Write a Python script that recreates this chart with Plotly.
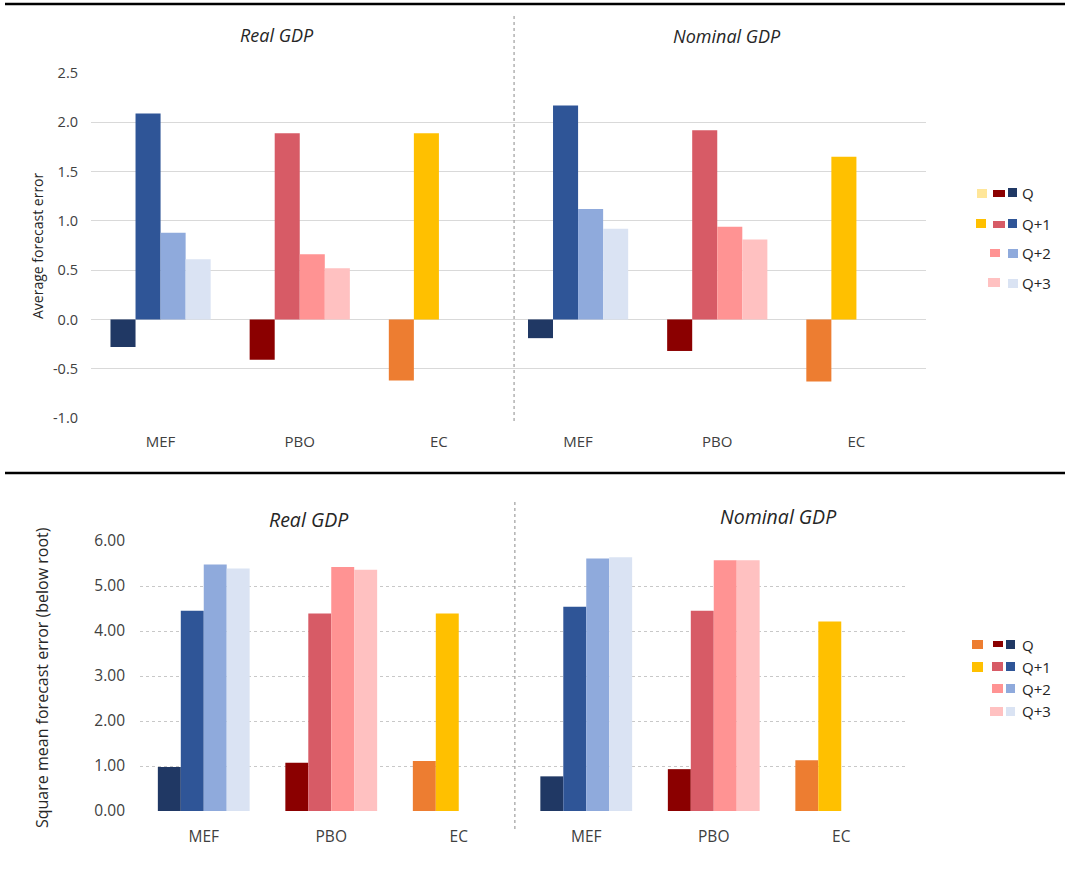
import plotly.graph_objects as go

W, H = 1065, 889

providers = ["MEF", "PBO", "EC"]
horizons = ["Q", "Q+1", "Q+2", "Q+3"]

# Average forecast error, by provider (MEF, PBO, EC)
avg_real_q = [-0.28, -0.41, -0.62]
avg_real_q1 = [2.09, 1.89, 1.89]
avg_real_q2 = [0.88, 0.66, None]
avg_real_q3 = [0.61, 0.52, None]
avg_nom_q = [-0.19, -0.32, -0.63]
avg_nom_q1 = [2.17, 1.92, 1.65]
avg_nom_q2 = [1.12, 0.94, None]
avg_nom_q3 = [0.92, 0.81, None]

# Square mean forecast error (below root), by provider (MEF, PBO, EC)
rmse_real_q = [0.98, 1.07, 1.11]
rmse_real_q1 = [4.45, 4.39, 4.39]
rmse_real_q2 = [5.48, 5.42, None]
rmse_real_q3 = [5.39, 5.36, None]
rmse_nom_q = [0.77, 0.93, 1.13]
rmse_nom_q1 = [4.54, 4.45, 4.21]
rmse_nom_q2 = [5.61, 5.57, None]
rmse_nom_q3 = [5.64, 5.57, None]

avg_tick_vals = [-1.0, -0.5, 0.0, 0.5, 1.0, 1.5, 2.0, 2.5]
avg_tick_text = ["-1.0", "-0.5", "0.0", "0.5", "1.0", "1.5", "2.0", "2.5"]
rmse_tick_vals = [0, 1, 2, 3, 4, 5, 6]
rmse_tick_text = ["0.00", "1.00", "2.00", "3.00", "4.00", "5.00", "6.00"]

# colour of each horizon, per provider
provider_colors = {
    "MEF": ["#203864", "#2F5597", "#8FAADC", "#DAE3F3"],
    "PBO": ["#8B0000", "#D75B66", "#FF9393", "#FFC1C1"],
    "EC": ["#ED7D31", "#FFC000", "#FFFFFF", "#FFFFFF"],
}

FONT = "Open Sans"
TICK_COLOR = "#404040"
TEXT_COLOR = "#262626"

avg_series = [
    avg_real_q + avg_nom_q,
    avg_real_q1 + avg_nom_q1,
    avg_real_q2 + avg_nom_q2,
    avg_real_q3 + avg_nom_q3,
]
rmse_series = [
    rmse_real_q + rmse_nom_q,
    rmse_real_q1 + rmse_nom_q1,
    rmse_real_q2 + rmse_nom_q2,
    rmse_real_q3 + rmse_nom_q3,
]
xpos = list(range(2 * len(providers)))

fig = go.Figure()
for h, name in enumerate(horizons):
    colors = [provider_colors[p][h] for p in providers] * 2
    fig.add_trace(go.Bar(x=xpos, y=avg_series[h], name=name, marker=dict(color=colors, line=dict(width=0)),
                         xaxis="x", yaxis="y", showlegend=False, offsetgroup=str(h)))
    fig.add_trace(go.Bar(x=xpos, y=rmse_series[h], name=name, marker=dict(color=colors, line=dict(width=0)),
                         xaxis="x2", yaxis="y2", showlegend=False, offsetgroup=str(h)))


def px_x(v):
    return v / W


def px_y(v):
    return 1 - v / H


top_dom_x = [px_x(91), px_x(926)]
top_dom_y = [px_y(418), px_y(73)]
bot_dom_x = [px_x(140), px_x(905)]
bot_dom_y = [px_y(811), px_y(541)]

xcommon = dict(tickmode="array", tickvals=xpos, ticktext=providers * 2, range=[-0.5, 5.5],
               showgrid=False, zeroline=False, showline=False, ticks="", automargin=False,
               fixedrange=True)

fig.update_layout(
    width=W, height=H, margin=dict(l=0, r=0, t=0, b=0, pad=0, autoexpand=False),
    paper_bgcolor="white", plot_bgcolor="white", showlegend=False,
    barmode="group", bargap=0.28, bargroupgap=0,
    font=dict(family=FONT, color=TICK_COLOR),
    xaxis=dict(domain=top_dom_x, anchor="y", ticklabelstandoff=13,
               tickfont=dict(family=FONT, size=15, color=TICK_COLOR), **xcommon),
    yaxis=dict(domain=top_dom_y, anchor="x", range=[-1.0, 2.5], tickmode="array",
               tickvals=avg_tick_vals, ticktext=avg_tick_text, showgrid=True, automargin=False,
               gridcolor="#D9D9D9", gridwidth=1, zeroline=False, showline=False, ticks="",
               ticklabelstandoff=12, tickfont=dict(family=FONT, size=14.5, color=TICK_COLOR)),
    xaxis2=dict(domain=bot_dom_x, anchor="y2", ticklabelstandoff=14,
                tickfont=dict(family=FONT, size=15.5, color=TICK_COLOR), **xcommon),
    yaxis2=dict(domain=bot_dom_y, anchor="x2", range=[0, 6], tickmode="array",
                tickvals=rmse_tick_vals, ticktext=rmse_tick_text, showgrid=True, automargin=False,
                gridcolor="#C8C8C8", gridwidth=1, griddash="dot", zeroline=False, showline=False,
                ticks="", ticklabelstandoff=14, tickfont=dict(family=FONT, size=15.5, color=TICK_COLOR)),
)

shapes = []
annotations = []

# black rules above each panel
for yy in (4, 473):
    shapes.append(dict(type="line", xref="paper", yref="paper", x0=px_x(5), x1=1, y0=px_y(yy), y1=px_y(yy),
                       line=dict(color="#000000", width=2.5)))

# dotted dividers between real and nominal GDP
shapes.append(dict(type="line", xref="x", yref="paper", x0=2.54, x1=2.54, y0=px_y(421), y1=px_y(16),
                   line=dict(color="#A6A6A6", width=1.3, dash="dot")))
shapes.append(dict(type="line", xref="x2", yref="paper", x0=2.44, x1=2.44, y0=px_y(829), y1=px_y(500),
                   line=dict(color="#A6A6A6", width=1.3, dash="dot")))

# panel titles
for text, cx, cy, size in [("Real GDP", 277, 35, 18), ("Nominal GDP", 727, 36, 18),
                           ("Real GDP", 309, 519, 19.5), ("Nominal GDP", 778, 516, 19.5)]:
    annotations.append(dict(text=f"<i>{text}</i>", xref="paper", yref="paper", x=px_x(cx), y=px_y(cy),
                            xanchor="center", yanchor="middle", showarrow=False,
                            font=dict(family=FONT, size=size, color=TEXT_COLOR)))

# y-axis titles
annotations.append(dict(text="Average forecast error", xref="paper", yref="paper", x=px_x(38), y=px_y(246),
                        textangle=-90, xanchor="center", yanchor="middle", showarrow=False,
                        font=dict(family=FONT, size=14, color=TEXT_COLOR)))
annotations.append(dict(text="Square mean forecast error (below root)", xref="paper", yref="paper",
                        x=px_x(42), y=px_y(678), textangle=-90, xanchor="center", yanchor="middle",
                        showarrow=False, font=dict(family=FONT, size=16, color=TEXT_COLOR)))

# legends: swatch boxes (x0, x1, y0, y1, colour) per row, then the row label
top_legend = [
    ("Q", 193, [(977, 987, 189, 198, "#FFE699"), (993, 1005, 190, 197, "#8B0000"), (1008, 1017, 188, 197, "#203864")]),
    ("Q+1", 224, [(976, 986, 219, 228, "#FFC000"), (993, 1005, 221, 228, "#D75B66"), (1008, 1017, 219, 228, "#2F5597")]),
    ("Q+2", 253, [(990, 1000, 249, 257, "#FF9393"), (1008, 1018, 249, 258, "#8FAADC")]),
    ("Q+3", 283, [(988, 1000, 278, 287, "#FFC1C1"), (1008, 1018, 279, 288, "#DAE3F3")]),
]
bot_legend = [
    ("Q", 645, [(972, 983, 640, 649, "#ED7D31"), (993, 1003, 641, 647, "#8B0000"), (1006, 1015, 640, 649, "#203864")]),
    ("Q+1", 667, [(972, 983, 662, 672, "#FFC000"), (992, 1003, 662, 671, "#D75B66"), (1006, 1015, 662, 671, "#2F5597")]),
    ("Q+2", 689, [(992, 1003, 684, 693, "#FF9393"), (1006, 1015, 684, 693, "#8FAADC")]),
    ("Q+3", 711, [(990, 1003, 707, 716, "#FFC1C1"), (1006, 1015, 707, 716, "#DAE3F3")]),
]
for legend in (top_legend, bot_legend):
    for label, cy, boxes in legend:
        for x0, x1, y0, y1, col in boxes:
            shapes.append(dict(type="rect", xref="paper", yref="paper", x0=px_x(x0), x1=px_x(x1),
                               y0=px_y(y1), y1=px_y(y0), fillcolor=col, line=dict(width=0)))
        annotations.append(dict(text=label, xref="paper", yref="paper", x=px_x(1020), y=px_y(cy),
                                xanchor="left", yanchor="middle", showarrow=False,
                                font=dict(family=FONT, size=15, color=TEXT_COLOR)))

fig.update_layout(shapes=shapes, annotations=annotations)
fig.write_html("out.html")
